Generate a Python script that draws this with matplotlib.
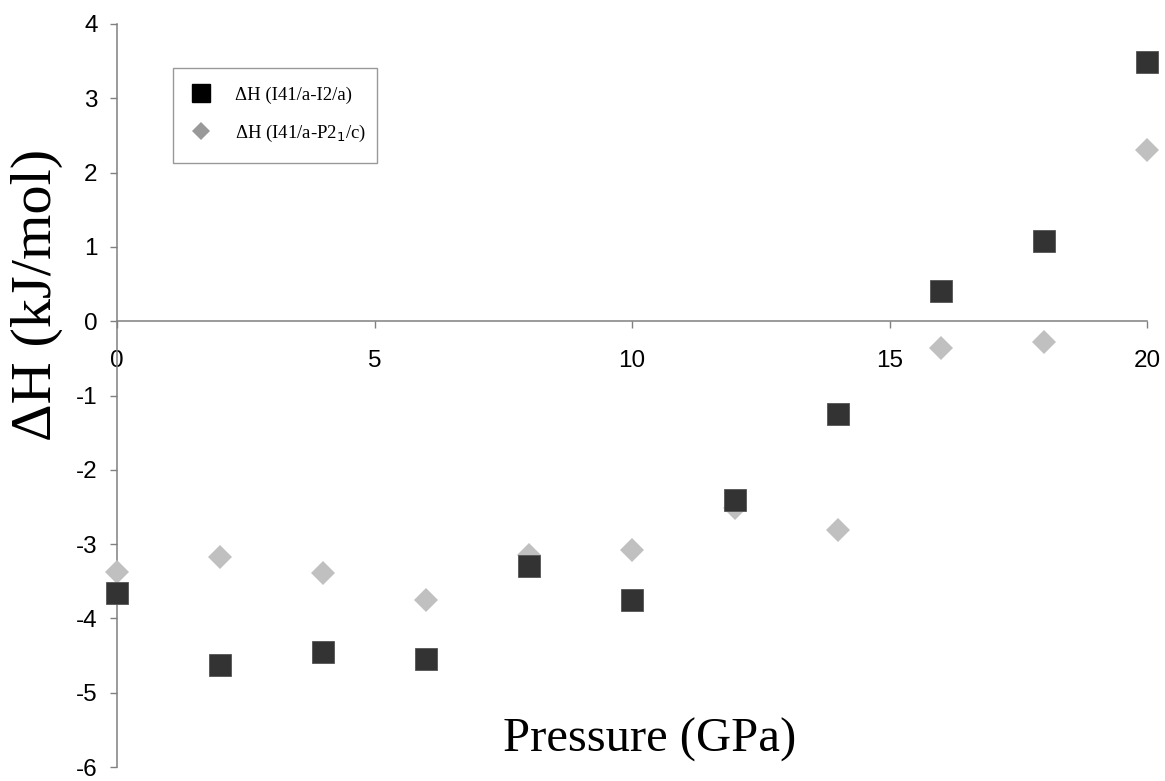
import matplotlib
matplotlib.use("Agg")
import matplotlib.pyplot as plt
from matplotlib.lines import Line2D

plt.rcParams['axes.unicode_minus'] = False

pressure = [0, 2, 4, 6, 8, 10, 12, 14, 16, 18, 20]
dh_i2a = [-3.66, -4.63, -4.45, -4.55, -3.30, -3.75, -2.41, -1.25, 0.40, 1.08, 3.49]
dh_p21c = [-3.38, -3.18, -3.39, -3.75, -3.15, -3.08, -2.52, -2.81, -0.36, -0.28, 2.31]
label_i2a = "ΔH (I41/a-I2/a)"
label_p21c = "ΔH (I41/a-P2$_1$/c)"
xticks = [0, 5, 10, 15, 20]
yticks = [-6, -5, -4, -3, -2, -1, 0, 1, 2, 3, 4]

W, H = 1165, 781
fig = plt.figure(figsize=(W / 100, H / 100), dpi=100)
ax = fig.add_axes([117 / W, 1 - 767 / H, 1030 / W, 743 / H])

ax.plot(pressure, dh_p21c, linestyle='none', marker='D', markersize=11.8,
        color='#c0c0c0', markeredgewidth=0, zorder=3, clip_on=False)
ax.plot(pressure, dh_i2a, linestyle='none', marker='s', markersize=16,
        color='#333333', markeredgecolor='#555555', markeredgewidth=0.6,
        zorder=4, clip_on=False)

ax.set_xlim(0, 20)
ax.set_ylim(-6, 4)
ax.set_xticks(xticks)
ax.set_yticks(yticks)

for s in ['top', 'right']:
    ax.spines[s].set_visible(False)
ax.spines['bottom'].set_position(('data', 0))
for s in ['left', 'bottom']:
    ax.spines[s].set_color('#808080')
    ax.spines[s].set_linewidth(1.1)

ax.tick_params(axis='x', direction='out', length=5, width=1.0, color='#808080',
               pad=16, labelsize=17.5)
ax.tick_params(axis='y', direction='out', length=5, width=1.0, color='#808080',
               pad=9, labelsize=17.5)
for t in ax.get_xticklabels() + ax.get_yticklabels():
    t.set_fontfamily('Liberation Sans')

ax.set_xlabel("Pressure (GPa)", fontfamily='Liberation Serif', fontsize=35,
              va='center')
ax.xaxis.set_label_coords(0.517, 0.036)
ax.set_ylabel("ΔH (kJ/mol)", fontfamily='Liberation Serif', fontsize=42,
              va='center')
ax.yaxis.set_label_coords(-0.078, 0.635)

handles = [
    Line2D([], [], linestyle='none', marker='s', markersize=13.5, color='#000000'),
    Line2D([], [], linestyle='none', marker='D', markersize=9.5, color='#999999',
           markeredgewidth=0),
]
x0 = (173 - 117) / 1030
y1 = (767 - 68) / 743
w = 204 / 1030
h = 98 / 743
leg = ax.legend(handles, [label_i2a, label_p21c], loc='upper left',
                bbox_to_anchor=(x0, y1 - h, w, h), mode='expand',
                prop={'family': 'Liberation Serif', 'size': 13.5},
                frameon=True, fancybox=False, edgecolor='#808080',
                borderpad=1.0, labelspacing=1.0, handlelength=1.0,
                handletextpad=1.3, borderaxespad=0)
leg.get_frame().set_linewidth(1.0)

fig.savefig("out.png", dpi=100)
